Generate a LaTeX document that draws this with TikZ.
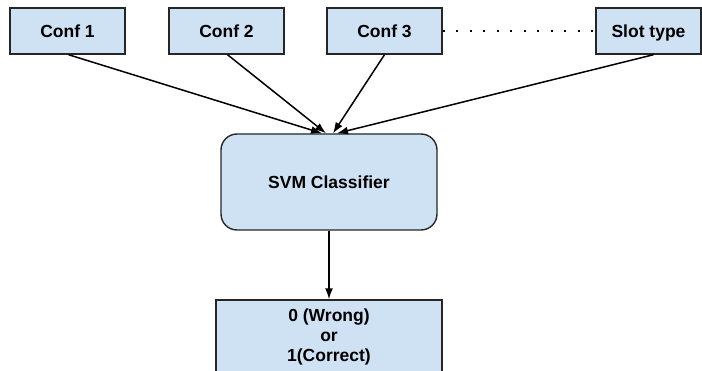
\documentclass[tikz,border=0pt]{standalone}
\usepackage{fontspec}
\setmainfont{Liberation Sans}
\usepackage{tikz}
\usetikzlibrary{arrows.meta}
\definecolor{boxblue}{HTML}{CFE2F3}

\begin{document}
\begin{tikzpicture}[x=1pt,y=-1pt,
    box/.style={draw=black!85,fill=boxblue,line width=1.4pt,inner sep=0pt,
      align=center,font=\fontsize{17.5}{20}\selectfont\bfseries},
    conf/.style={box,minimum width=115pt,minimum height=46pt,text height=14pt,text depth=0pt},
    arr/.style={-{Latex[length=11pt,width=8pt]},line width=1.5pt}]
  \useasboundingbox (0,0) rectangle (702,371);
  \node[conf] (c1) at (67.5,31) {Conf 1};
  \node[conf] (c2) at (226.5,31) {Conf 2};
  \node[conf] (c3) at (384.5,31) {Conf 3};
  \node[conf,minimum width=105pt] (slot) at (648.5,31) {Slot type};
  \node[box,rounded corners=16pt,minimum width=216pt,minimum height=96pt] (svm) at (329,182) {SVM Classifier};
  \node[box,minimum width=226pt,minimum height=74pt] (out) at (329,337) {0 (Wrong)\\or\\1(Correct)};
  \draw[line width=2pt,dash pattern=on 2pt off 11.5pt] (c3.east) -- (slot.west);
  \draw[arr] ([xshift=1pt]c1.south) to ([xshift=-7pt]svm.north);
  \draw[arr] ([xshift=1pt]c2.south) to ([xshift=-3pt]svm.north);
  \draw[arr] (c3.south) to ([xshift=4pt]svm.north);
  \draw[arr] ([xshift=5pt]slot.south) to ([xshift=8pt]svm.north);
  \draw[arr] (svm.south) to (out.north);
\end{tikzpicture}
\end{document}
